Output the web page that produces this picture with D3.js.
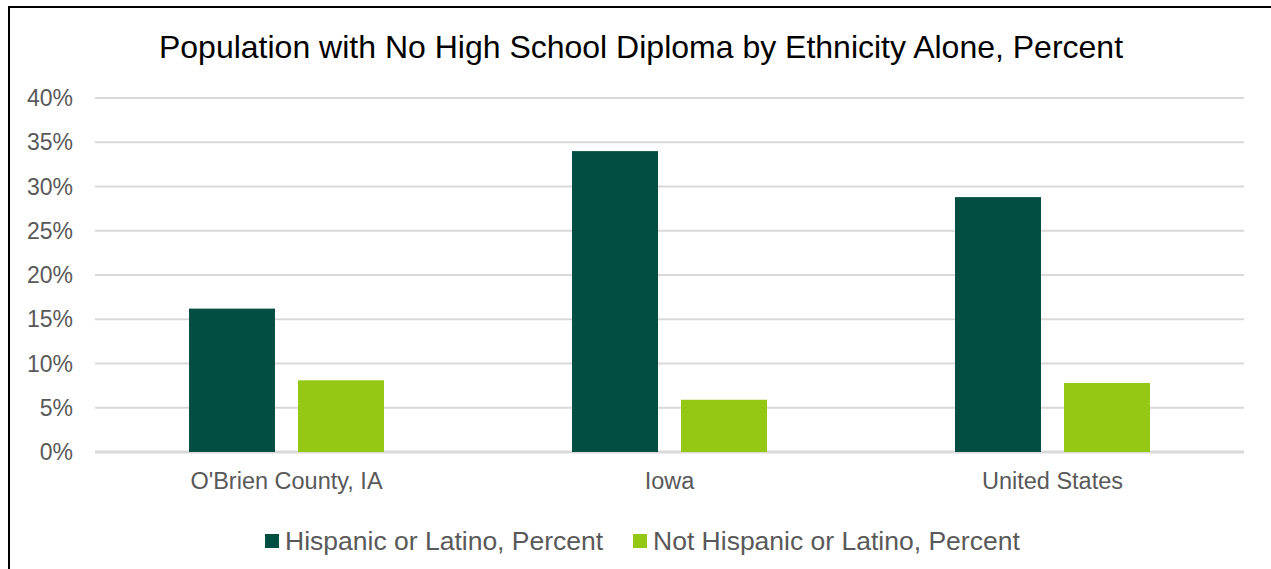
<!DOCTYPE html>
<html>
<head>
<meta charset="utf-8">
<script src="https://cdn.jsdelivr.net/npm/d3@7"></script>
<style>
  body { margin: 0; background: #fff; }
  text { font-family: "Liberation Sans", Arial, sans-serif; }
</style>
</head>
<body>
<svg id="chart" width="1271" height="569"></svg>
<script>
var categories = ["O'Brien County, IA", "Iowa", "United States"];
var seriesNames = ["Hispanic or Latino, Percent", "Not Hispanic or Latino, Percent"];
var hispanic = [16.2, 34.0, 28.8];
var notHispanic = [8.1, 5.9, 7.8];
var yTicks = [0, 5, 10, 15, 20, 25, 30, 35, 40];
var colors = ["#034e43", "#95c814"];

var svg = d3.select("#chart");

// outer frame of the chart area
svg.append("rect")
  .attr("x", 9)
  .attr("y", 7)
  .attr("width", 1275)
  .attr("height", 580)
  .attr("fill", "none")
  .attr("stroke", "#000")
  .attr("stroke-width", 2);

svg.append("text")
  .attr("x", 641)
  .attr("y", 58)
  .attr("text-anchor", "middle")
  .attr("font-size", 32)
  .attr("fill", "#000")
  .text("Population with No High School Diploma by Ethnicity Alone, Percent");

var plotLeft = 95, plotRight = 1244, plotTop = 98, plotBottom = 452;

var x = d3.scaleBand().domain(categories).range([plotLeft, plotRight]);
var y = d3.scaleLinear().domain([0, 40]).range([plotBottom, plotTop]);

// gridlines
svg.append("g")
  .selectAll("line")
  .data(yTicks)
  .enter()
  .append("line")
  .attr("x1", plotLeft)
  .attr("x2", plotRight)
  .attr("y1", function (d) { return y(d); })
  .attr("y2", function (d) { return y(d); })
  .attr("stroke", "#d9d9d9")
  .attr("stroke-width", function (d) { return d === 0 ? 3 : 2; });

// y labels
svg.append("g")
  .selectAll("text")
  .data(yTicks)
  .enter()
  .append("text")
  .attr("x", 73)
  .attr("y", function (d) { return y(d) + 8; })
  .attr("text-anchor", "end")
  .attr("font-size", 23)
  .attr("fill", "#595959")
  .text(function (d) { return d + "%"; });

var barW = 86, barGap = 23;
var series = [hispanic, notHispanic];

series.forEach(function (vals, si) {
  svg.append("g")
    .selectAll("rect")
    .data(vals)
    .enter()
    .append("rect")
    .attr("x", function (d, i) {
      var c = x(categories[i]) + x.bandwidth() / 2;
      return si === 0 ? c - barGap / 2 - barW : c + barGap / 2;
    })
    .attr("y", function (d) { return y(d); })
    .attr("width", barW)
    .attr("height", function (d) { return plotBottom - y(d); })
    .attr("fill", colors[si]);
});

// category labels
svg.append("g")
  .selectAll("text")
  .data(categories)
  .enter()
  .append("text")
  .attr("x", function (d) { return x(d) + x.bandwidth() / 2; })
  .attr("y", 489)
  .attr("text-anchor", "middle")
  .attr("font-size", 23.5)
  .attr("fill", "#595959")
  .text(function (d) { return d; });

// legend
var legendX = [265, 633];
var legend = svg.append("g");
seriesNames.forEach(function (name, i) {
  legend.append("rect")
    .attr("x", legendX[i])
    .attr("y", 534)
    .attr("width", 14)
    .attr("height", 14)
    .attr("fill", colors[i]);
  legend.append("text")
    .attr("x", legendX[i] + 20)
    .attr("y", 550)
    .attr("font-size", 26.5)
    .attr("fill", "#595959")
    .text(name);
});
</script>
</body>
</html>
